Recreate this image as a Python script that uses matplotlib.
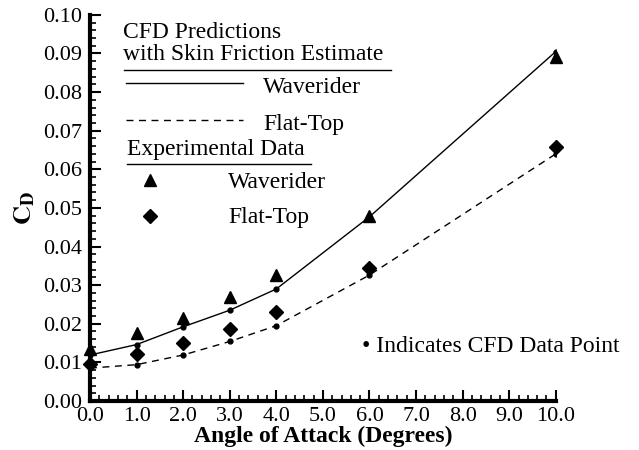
import matplotlib
matplotlib.use('Agg')
import matplotlib.pyplot as plt
from matplotlib.ticker import MultipleLocator, FormatStrFormatter

plt.rcParams['font.family'] = ['Liberation Serif', 'DejaVu Serif']
plt.rcParams['mathtext.fontset'] = 'stix'

# 攻角
alpha = [0, 1, 2, 3, 4, 6, 10]
# CFD 预测
cfd_wave = [0.0119, 0.0146, 0.0192, 0.0235, 0.0290, 0.0477, 0.0905]
cfd_flat = [0.0085, 0.0094, 0.0119, 0.0154, 0.0195, 0.0326, 0.0640]
# 实验数据
exp_wave = [0.0135, 0.0175, 0.0216, 0.0269, 0.0326, 0.0478, 0.0891]
exp_flat = [0.0096, 0.0121, 0.0150, 0.0187, 0.0231, 0.0344, 0.0659]

fig = plt.figure(figsize=(6.39, 4.5), dpi=100)
ax = fig.add_axes([0.1408, 0.109, 0.729, 0.858])

ax.plot(alpha, cfd_wave, 'k-', lw=1, marker='o', ms=3.5, zorder=3)
ax.plot(alpha, cfd_flat, 'k--', lw=1, dashes=(5, 4), marker='o', ms=3.5, zorder=3)
ax.plot(alpha, exp_wave, 'k^', ms=8, ls='none', clip_on=False, zorder=4)
ax.plot(alpha, exp_flat, 'kD', ms=7.5, ls='none', clip_on=False, zorder=4)

ax.set_xlim(0, 10)
ax.set_ylim(0, 0.10)
ax.spines['top'].set_visible(False)
ax.spines['right'].set_visible(False)
ax.spines['left'].set_linewidth(3)
ax.spines['bottom'].set_linewidth(3)
ax.xaxis.set_major_locator(MultipleLocator(1))
ax.xaxis.set_minor_locator(MultipleLocator(0.2))
ax.yaxis.set_major_locator(MultipleLocator(0.01))
ax.yaxis.set_minor_locator(MultipleLocator(0.002))
ax.xaxis.set_major_formatter(FormatStrFormatter('%.1f'))
ax.yaxis.set_major_formatter(FormatStrFormatter('%.2f'))
ax.tick_params(which='major', direction='in', length=8, width=1.5, labelsize=16)
ax.tick_params(which='minor', direction='in', length=4, width=1.2)
ax.tick_params(axis='x', pad=4)
ax.tick_params(axis='y', pad=6)

ax.set_xlabel('Angle of Attack (Degrees)', fontsize=17, fontweight='bold', labelpad=0)
ax.set_ylabel(r'$\mathbf{C_D}$', fontsize=19, labelpad=4)

# 图例（手动绘制）
tr = ax.transAxes
def px(x, y):
    return ((x - 90) / 466.0, (401 - y) / 386.0)

fs = 17
ax.text(*px(123, 33), 'CFD Predictions', transform=tr, fontsize=fs, va='center')
ax.text(*px(123, 55), 'with Skin Friction Estimate', transform=tr, fontsize=fs, va='center')
ax.plot(*zip(px(124, 70), px(391, 70)), transform=tr, color='k', lw=1)
ax.plot(*zip(px(126, 83), px(243, 83)), transform=tr, color='k', lw=1)
ax.text(*px(263, 88), 'Waverider', transform=tr, fontsize=fs, va='center')
ax.plot(*zip(px(126, 120), px(243, 120)), transform=tr, color='k', lw=1, ls='--', dashes=(5, 4))
ax.text(*px(263, 125), 'Flat-Top', transform=tr, fontsize=fs, va='center')
ax.text(*px(127, 150), 'Experimental Data', transform=tr, fontsize=fs, va='center')
ax.plot(*zip(px(127, 164), px(311, 164)), transform=tr, color='k', lw=1)
ax.plot(*px(150, 180), 'k^', ms=8, transform=tr)
ax.text(*px(228, 183), 'Waverider', transform=tr, fontsize=fs, va='center')
ax.plot(*px(150, 216), 'kD', ms=7.5, transform=tr)
ax.text(*px(228, 218), 'Flat-Top', transform=tr, fontsize=fs, va='center')
ax.text(*px(362, 347), '\u2022 Indicates CFD Data Point', transform=tr, fontsize=fs, va='center')

fig.savefig('out.png', dpi=100)
